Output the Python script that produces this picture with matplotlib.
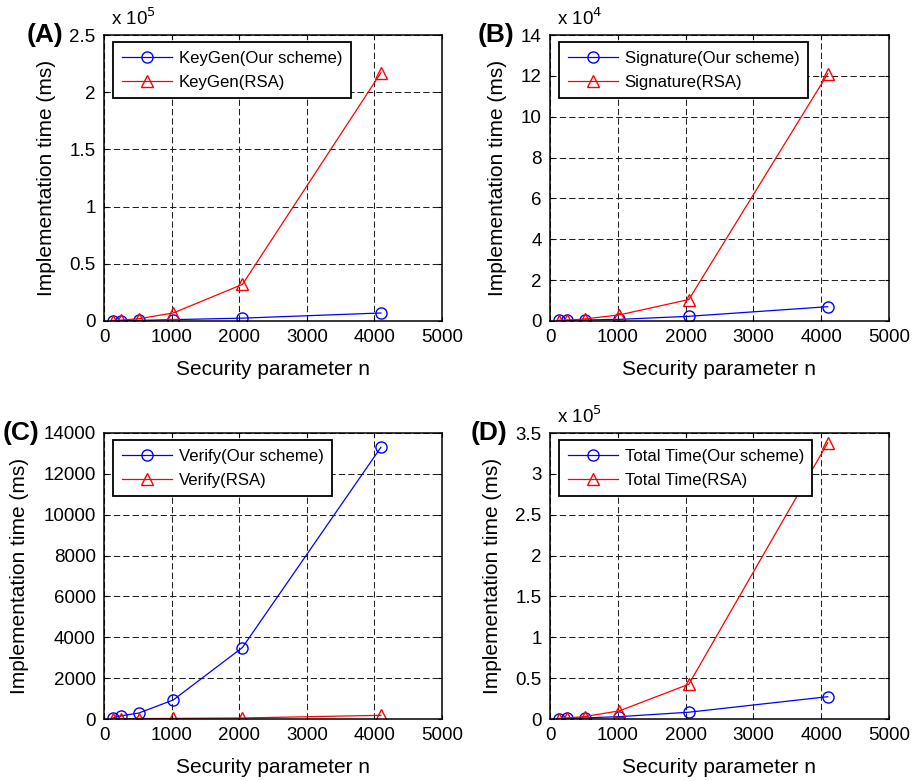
import matplotlib
matplotlib.use("Agg")
import matplotlib.pyplot as plt
from matplotlib.ticker import FuncFormatter, MultipleLocator

plt.rcParams['font.family'] = ['Liberation Sans', 'DejaVu Sans']

n_values = [128, 256, 512, 1024, 2048, 4096]

keygen_ours = [250, 350, 500, 1200, 2500, 7000]
keygen_rsa = [400, 800, 2000, 7000, 32000, 217000]

sig_ours = [300, 400, 500, 800, 2300, 7000]
sig_rsa = [200, 400, 1000, 3000, 10500, 121000]

verify_ours = [40, 160, 290, 930, 3500, 13300]
verify_rsa = [10, 15, 20, 30, 50, 180]

total_ours = [600, 900, 1300, 2900, 8300, 27300]
total_rsa = [600, 1200, 3000, 10000, 42600, 338000]

panels = [
    dict(label='(A)', ours=keygen_ours, rsa=keygen_rsa, name='KeyGen',
         ymax=2.5e5, ystep=0.5e5, scale=1e5, exp='5', lx=-0.121),
    dict(label='(B)', ours=sig_ours, rsa=sig_rsa, name='Signature',
         ymax=14e4, ystep=2e4, scale=1e4, exp='4', lx=-0.104),
    dict(label='(C)', ours=verify_ours, rsa=verify_rsa, name='Verify',
         ymax=14000, ystep=2000, scale=1, exp=None, lx=-0.19),
    dict(label='(D)', ours=total_ours, rsa=total_rsa, name='Total Time',
         ymax=3.5e5, ystep=0.5e5, scale=1e5, exp='5', lx=-0.127),
]

W, H = 919, 781
fig = plt.figure(figsize=(W / 100, H / 100), dpi=100)

boxes = [(104, 35, 442, 321), (550, 35, 889, 321),
         (104, 433, 442, 719), (550, 433, 889, 719)]

for p, (x0, y0, x1, y1) in zip(panels, boxes):
    ax = fig.add_axes([x0 / W, 1 - y1 / H, (x1 - x0) / W, (y1 - y0) / H])
    ax.plot(n_values, p['ours'], color='blue', lw=0.9, marker='o', ms=8,
            mfc='none', mec='blue', mew=1.0, label=p['name'] + '(Our scheme)')
    ax.plot(n_values, p['rsa'], color='red', lw=0.9, marker='^', ms=9,
            mfc='none', mec='red', mew=1.0, label=p['name'] + '(RSA)')
    ax.set_xlim(0, 5000)
    ax.set_ylim(0, p['ymax'])
    ax.xaxis.set_major_locator(MultipleLocator(1000))
    ax.yaxis.set_major_locator(MultipleLocator(p['ystep']))
    sc = p['scale']
    ax.yaxis.set_major_formatter(FuncFormatter(lambda v, pos, sc=sc: ('%g' % round(v / sc, 6))))
    ax.grid(True, color='#222222', linestyle=(0, (6, 3)), linewidth=0.75)
    ax.tick_params(direction='in', top=True, right=True, labelsize=13.5,
                   length=3, width=0.8, pad=6)
    for s in ax.spines.values():
        s.set_linewidth(1.1)
        s.set_color('black')
    ax.set_xlabel('Security parameter n', fontsize=15, labelpad=10)
    ax.set_ylabel('Implementation time (ms)', fontsize=15, labelpad=10)
    leg = ax.legend(loc='upper left', fontsize=12.1, frameon=True, fancybox=False,
                    edgecolor='black', framealpha=1, handlelength=3.0,
                    borderpad=0.5, labelspacing=0.55, handletextpad=0.4,
                    bbox_to_anchor=(0.027, 0.975), borderaxespad=0)
    leg.get_frame().set_linewidth(1.3)
    if p['exp']:
        ax.text(0.02, 1.02, 'x 10$^{%s}$' % p['exp'], transform=ax.transAxes,
                fontsize=13.5, ha='left', va='bottom')
    ax.text(p['lx'], 1.0, p['label'], transform=ax.transAxes, fontsize=19,
            fontweight='bold', ha='right', va='center')

fig.savefig('out.png', dpi=100)
